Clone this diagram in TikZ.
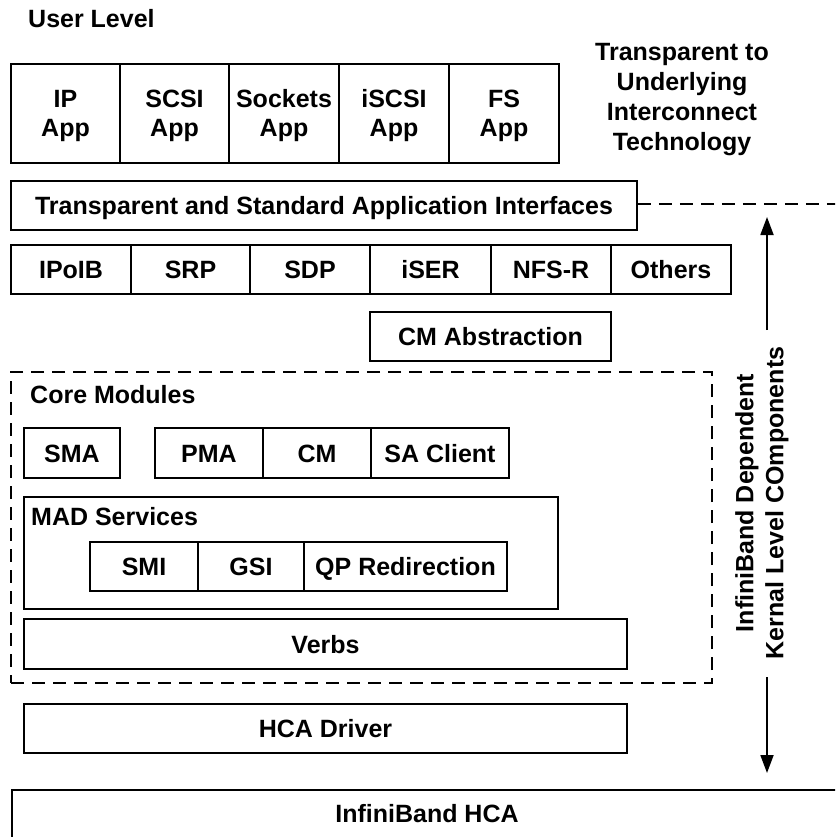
\documentclass[tikz,border=0pt]{standalone}
\usepackage{fontspec}
\setmainfont{Liberation Sans}
\usetikzlibrary{arrows.meta}
\begin{document}
\begin{tikzpicture}[x=1pt,y=-1pt,
  every node/.style={font=\fontsize{25}{29}\selectfont\bfseries, inner sep=0pt, align=center},
  box/.style={draw, line width=1.8pt, minimum height=#1},
  box/.default=49,
  one/.style={text height=18pt, text depth=0pt},
  dbox/.style={draw, line width=1.8pt, dash pattern=on 13pt off 8pt},
  arr/.style={line width=1.8pt, -{Triangle[length=18pt,width=13pt]}},
  dline/.style={line width=1.8pt, dash pattern=on 13pt off 8pt}
]
\clip (0,0) rectangle (835,837);
\fill[white] (0,0) rectangle (835,837);

\node[anchor=base west] (ul) at (28,28) {User Level};
\node[font=\fontsize{25}{30}\selectfont\bfseries] (tr) at (682,100) {Transparent to\\Underlying\\Interconnect\\Technology};

% App row
\node[box=99, minimum width=109] (ip) at (65.5,113.5) {};
\node[box=99, minimum width=109] (scsi) at (174.5,113.5) {};
\node[box=99, minimum width=110] (sock) at (284,113.5) {};
\node[box=99, minimum width=110] (iscsi) at (394,113.5) {};
\node[box=99, minimum width=110] (fs) at (504,113.5) {};
\node (ipt) at ([yshift=-2.5pt]ip.center) {IP\\App};
\node (scsit) at ([yshift=-2.5pt]scsi.center) {SCSI\\App};
\node (sockt) at ([yshift=-2.5pt]sock.center) {Sockets\\App};
\node (iscsit) at ([yshift=-2.5pt]iscsi.center) {iSCSI\\App};
\node (fst) at ([yshift=-2.5pt]fs.center) {FS\\App};

% interfaces
\node[box, one, minimum width=626] (tsai) at (324,205.5) {Transparent and Standard Application Interfaces};
\coordinate (dend) at (836,204);
\draw[dline] (tsai.east |- dend) -- (dend);

% protocols
\node[box, one, minimum width=120] (ipoib) at (71,269.5) {IPoIB};
\node[box, one, minimum width=119] (srp) at (190.5,269.5) {SRP};
\node[box, one, minimum width=120] (sdp) at (310,269.5) {SDP};
\node[box, one, minimum width=121] (iser) at (430.5,269.5) {iSER};
\node[box, one, minimum width=120] (nfsr) at (551,269.5) {NFS-R};
\node[box, one, minimum width=120] (oth) at (671,269.5) {Others};

\node[box, one, minimum width=241] (cma) at (490.5,336.5) {CM Abstraction};

% core modules
\node[dbox, minimum width=701, minimum height=311] (core) at (361.5,527.5) {};
\node[anchor=base west] (coret) at (30,403) {Core Modules};
\node[box=50, one, minimum width=96] (sma) at (72,453) {SMA};
\node[box=50, one, minimum width=108] (pma) at (209,453) {PMA};
\node[box=50, one, minimum width=108] (cm) at (317,453) {CM};
\node[box=50, one, minimum width=138] (sac) at (440,453) {SA Client};

\node[box=112, minimum width=534] (mad) at (291,553) {};
\node[anchor=base west] (madt) at (31,525) {MAD Services};
\node[box, one, minimum width=108] (smi) at (144,566.5) {SMI};
\node[box, one, minimum width=106] (gsi) at (251,566.5) {GSI};
\node[box, one, minimum width=203] (qpr) at (405.5,566.5) {QP Redirection};

\node[box=50, one, minimum width=603] (verbs) at (325.5,644) {Verbs};
\node[box, one, minimum width=603] (hcad) at (325.5,728.5) {HCA Driver};

\node[box=70, minimum width=840, anchor=north west] (hca) at (11,789) {};
\node[one] (hcat) at (427,813) {InfiniBand HCA};

% side label and arrows
\node[rotate=90, font=\fontsize{25}{30}\selectfont\bfseries] (ib) at (762,503) {InfiniBand Dependent\\Kernal Level COmponents};
\coordinate (ltop) at (767,330);
\coordinate (atop) at (767,217);
\coordinate (lbot) at (767,677);
\coordinate (abot) at (767,773);
\draw[arr] (ltop) -- (atop);
\draw[arr] (lbot) -- (abot);
\end{tikzpicture}
\end{document}
